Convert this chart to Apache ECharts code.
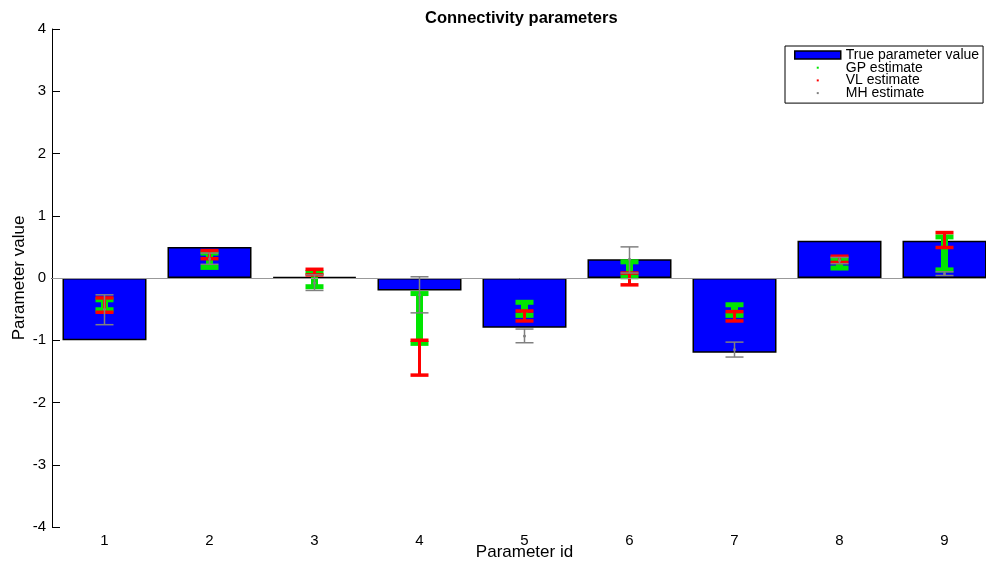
<!DOCTYPE html>
<html style="height: 100%">
<head>
  <meta charset="utf-8">
</head>
<body style="height: 100%; margin: 0; background: #fff">
  <div id="container" style="width: 986px; height: 564px"></div>
  <script src="https://cdn.jsdelivr.net/npm/echarts@6/dist/echarts.min.js"></script>
  <script>
    // parameter ids and true values
    var ids = ['1', '2', '3', '4', '5', '6', '7', '8', '9'];
    var trueValues = [-1.0, 0.5, 0.02, -0.2, -0.8, 0.3, -1.2, 0.6, 0.6];

    // GP estimate (mean, lower, upper)
    var gpMean = [-0.43, 0.29, -0.03, -0.65, -0.5, 0.14, -0.52, 0.24, 0.4];
    var gpLow = [-0.51, 0.17, -0.14, -1.05, -0.6, 0.02, -0.6, 0.16, 0.13];
    var gpHigh = [-0.35, 0.4, 0.09, -0.25, -0.39, 0.26, -0.43, 0.31, 0.66];

    // VL estimate
    var vlMean = [-0.44, 0.38, 0.1, -1.28, -0.61, -0.02, -0.61, 0.3, 0.61];
    var vlLow = [-0.55, 0.31, 0.05, -1.56, -0.69, -0.11, -0.69, 0.25, 0.49];
    var vlHigh = [-0.32, 0.44, 0.14, -1.0, -0.53, 0.08, -0.54, 0.35, 0.73];

    // MH estimate
    var mhMean = [-0.5, 0.31, -0.08, -0.27, -0.93, 0.3, -1.15, 0.28, 0.07];
    var mhLow = [-0.75, 0.22, -0.2, -0.56, -1.04, 0.08, -1.27, 0.23, 0.04];
    var mhHigh = [-0.27, 0.4, 0.05, 0.02, -0.82, 0.5, -1.03, 0.33, 0.1];

    var font = 'Liberation Sans, Arial, Helvetica, sans-serif';
    var dotIcon = 'path://M0,0L0,0M46,8L46,8M22,3h2v2h-2z';

    function rows(mean, low, high) {
      return ids.map(function (id, i) { return [i, mean[i], low[i], high[i]]; });
    }

    function errorSeries(name, color, data, lw, capW, z) {
      return {
        name: name,
        type: 'custom',
        z: z,
        data: data,
        encode: { x: 0, y: [1, 2, 3] },
        itemStyle: { color: color },
        renderItem: function (params, api) {
          var i = api.value(0);
          var m = api.coord([i, api.value(1)]);
          var lo = api.coord([i, api.value(2)]);
          var hi = api.coord([i, api.value(3)]);
          var half = 9;
          var st = { stroke: color, lineWidth: lw, lineCap: 'butt' };
          return {
            type: 'group',
            children: [
              { type: 'line', shape: { x1: lo[0], y1: lo[1], x2: hi[0], y2: hi[1] }, style: st },
              { type: 'line', shape: { x1: lo[0] - half, y1: lo[1], x2: lo[0] + half, y2: lo[1] }, style: { stroke: color, lineWidth: capW } },
              { type: 'line', shape: { x1: hi[0] - half, y1: hi[1], x2: hi[0] + half, y2: hi[1] }, style: { stroke: color, lineWidth: capW } },
              { type: 'circle', shape: { cx: m[0], cy: m[1], r: 1.5 }, style: { fill: color } }
            ]
          };
        }
      };
    }

    var chart = echarts.init(document.getElementById('container'), null, { renderer: 'canvas' });

    var option = {
      animation: false,
      title: {
        text: 'Connectivity parameters',
        left: 420,
        top: 5,
        textStyle: { fontFamily: font, fontSize: 16.5, fontWeight: 'bold', color: '#000' }
      },
      legend: {
        left: 785,
        top: 46,
        orient: 'vertical',
        itemWidth: 46,
        itemHeight: 8,
        itemGap: -1.3,
        padding: [2, 4, 3, 9],
        borderColor: '#000',
        borderWidth: 1,
        backgroundColor: '#fff',
        selectedMode: false,
        textStyle: { fontFamily: font, fontSize: 14, color: '#000' },
        data: [
          { name: 'True parameter value', icon: 'rect', itemStyle: { color: '#0000ff', borderColor: '#000', borderWidth: 1.5 } },
          { name: 'GP estimate', icon: dotIcon, itemStyle: { color: '#00e600' } },
          { name: 'VL estimate', icon: dotIcon, itemStyle: { color: '#ff0000' } },
          { name: 'MH estimate', icon: dotIcon, itemStyle: { color: '#808080' } }
        ]
      },
      grid: { left: 52, top: 29, width: 945, height: 498, outerBoundsMode: 'none', containLabel: false },
      xAxis: [
        {
          type: 'category',
          data: ids,
          boundaryGap: true,
          name: 'Parameter id',
          nameLocation: 'middle',
          nameGap: 17,
          nameMoveOverlap: false,
          nameTextStyle: { fontFamily: font, fontSize: 17, color: '#000' },
          axisLine: { lineStyle: { color: '#000', width: 1 } },
          axisTick: { inside: true, alignWithLabel: true, length: 8, lineStyle: { color: '#000' } },
          axisLabel: { fontFamily: font, fontSize: 15, color: '#000', margin: 6 }
        },
        {
          type: 'category',
          data: ids,
          boundaryGap: true,
          position: 'top',
          axisLine: { lineStyle: { color: '#000', width: 1 } },
          axisTick: { inside: true, alignWithLabel: true, length: 8, lineStyle: { color: '#000' } },
          axisLabel: { show: false }
        }
      ],
      yAxis: [
        {
          type: 'value',
          min: -4,
          max: 4,
          interval: 1,
          name: 'Parameter value',
          nameLocation: 'middle',
          nameGap: 24,
          nameMoveOverlap: false,
          nameTextStyle: { fontFamily: font, fontSize: 17, color: '#000' },
          axisLine: { show: true, lineStyle: { color: '#000', width: 1 } },
          axisTick: { show: true, inside: true, length: 8, lineStyle: { color: '#000' } },
          axisLabel: { fontFamily: font, fontSize: 15, color: '#000', margin: 6 },
          splitLine: { show: false }
        },
        {
          type: 'value',
          min: -4,
          max: 4,
          interval: 1,
          position: 'right',
          axisLine: { show: true, lineStyle: { color: '#000', width: 1 } },
          axisTick: { show: true, inside: true, length: 8, lineStyle: { color: '#000' } },
          axisLabel: { show: false },
          splitLine: { show: false }
        }
      ],
      series: [
        {
          name: 'True parameter value',
          type: 'bar',
          z: 1,
          data: trueValues,
          barWidth: '80%',
          itemStyle: { color: '#0000ff', borderColor: '#000', borderWidth: 1.5 },
          markLine: {
            silent: true,
            symbol: 'none',
            label: { show: false },
            lineStyle: { color: '#999', width: 1, type: 'solid' },
            data: [{ yAxis: 0 }]
          }
        },
        errorSeries('GP estimate', '#00e600', rows(gpMean, gpLow, gpHigh), 7, 5, 3),
        errorSeries('VL estimate', '#ff0000', rows(vlMean, vlLow, vlHigh), 3, 3.5, 4),
        errorSeries('MH estimate', '#808080', rows(mhMean, mhLow, mhHigh), 1.5, 1.5, 5)
      ]
    };

    chart.setOption(option);
    window.addEventListener('resize', chart.resize);
  </script>
</body>
</html>
